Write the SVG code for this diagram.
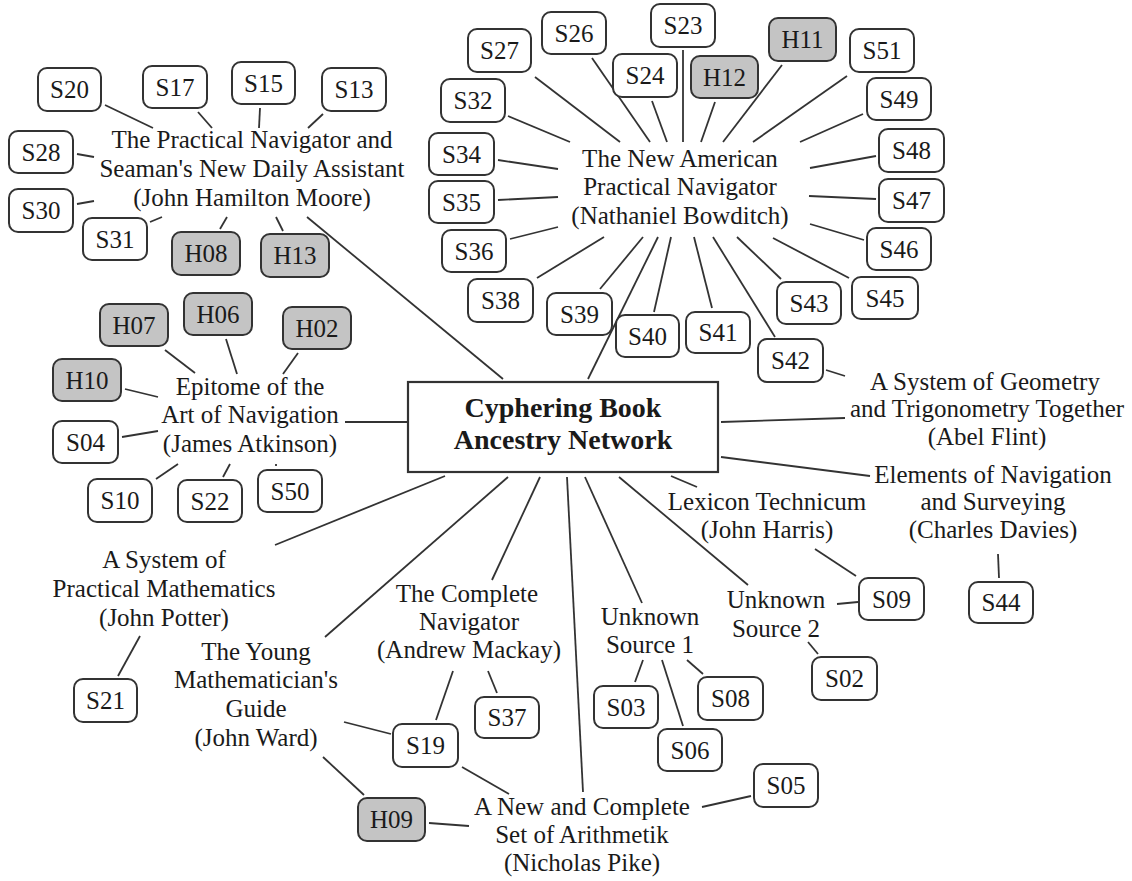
<svg xmlns="http://www.w3.org/2000/svg" width="1132" height="881" viewBox="0 0 1132 881">
<style>
text{font-family:"Liberation Serif","Times New Roman",serif;fill:#1a1a1a;text-anchor:middle}
.t{font-size:25px}
.b{font-size:25px}
.c{font-size:28px;font-weight:bold}
.s rect{fill:#fff;stroke:#333;stroke-width:2}
.h rect{fill:#c4c4c4;stroke:#333;stroke-width:2}
#connectors line{stroke:#333;stroke-width:1.8;fill:none}
</style>
<rect width="1132" height="881" fill="#fff"/>
<g id="connectors">
<line x1="105" y1="105" x2="153" y2="128"/>
<line x1="198" y1="112" x2="212" y2="128"/>
<line x1="260" y1="108" x2="259" y2="128"/>
<line x1="323" y1="114" x2="308" y2="128"/>
<line x1="77" y1="154" x2="94" y2="157"/>
<line x1="77" y1="204" x2="94" y2="201"/>
<line x1="150" y1="222" x2="162" y2="217"/>
<line x1="220" y1="229" x2="227" y2="217"/>
<line x1="276" y1="217" x2="283" y2="231"/>
<line x1="307" y1="217" x2="503" y2="379"/>
<line x1="535" y1="77" x2="620" y2="142"/>
<line x1="592" y1="58" x2="650" y2="142"/>
<line x1="652" y1="101" x2="667" y2="142"/>
<line x1="683" y1="50" x2="683" y2="142"/>
<line x1="715" y1="102" x2="701" y2="142"/>
<line x1="782" y1="65" x2="723" y2="142"/>
<line x1="847" y1="76" x2="753" y2="142"/>
<line x1="863" y1="114" x2="800" y2="142"/>
<line x1="876" y1="156" x2="810" y2="168"/>
<line x1="876" y1="199" x2="809" y2="196"/>
<line x1="864" y1="240" x2="810" y2="224"/>
<line x1="849" y1="278" x2="773" y2="238"/>
<line x1="781" y1="279" x2="737" y2="237"/>
<line x1="775" y1="337" x2="713" y2="237"/>
<line x1="712" y1="308" x2="694" y2="237"/>
<line x1="654" y1="312" x2="671" y2="237"/>
<line x1="600" y1="289" x2="643" y2="237"/>
<line x1="537" y1="278" x2="604" y2="237"/>
<line x1="510" y1="239" x2="558" y2="227"/>
<line x1="498" y1="200" x2="558" y2="197"/>
<line x1="498" y1="160" x2="558" y2="169"/>
<line x1="508" y1="116" x2="570" y2="142"/>
<line x1="658" y1="237" x2="588" y2="379"/>
<line x1="165" y1="350" x2="195" y2="373"/>
<line x1="226" y1="339" x2="237" y2="374"/>
<line x1="298" y1="353" x2="283" y2="374"/>
<line x1="125" y1="389" x2="158" y2="397"/>
<line x1="122" y1="437" x2="158" y2="431"/>
<line x1="156" y1="479" x2="178" y2="464"/>
<line x1="223" y1="477" x2="230" y2="464"/>
<line x1="276" y1="464" x2="276" y2="466"/>
<line x1="345" y1="422" x2="408" y2="422"/>
<line x1="445" y1="476" x2="275" y2="545"/>
<line x1="508" y1="477" x2="325" y2="637"/>
<line x1="540" y1="477" x2="492" y2="580"/>
<line x1="567" y1="477" x2="583" y2="792"/>
<line x1="585" y1="477" x2="642" y2="603"/>
<line x1="619" y1="477" x2="748" y2="585"/>
<line x1="671" y1="476" x2="697" y2="487"/>
<line x1="721" y1="422" x2="845" y2="418"/>
<line x1="721" y1="457" x2="870" y2="476"/>
<line x1="826" y1="370" x2="845" y2="376"/>
<line x1="815" y1="549" x2="856" y2="576"/>
<line x1="837" y1="604" x2="858" y2="602"/>
<line x1="998" y1="554" x2="999" y2="578"/>
<line x1="808" y1="642" x2="818" y2="654"/>
<line x1="643" y1="660" x2="635" y2="682"/>
<line x1="662" y1="660" x2="683" y2="726"/>
<line x1="687" y1="660" x2="703" y2="674"/>
<line x1="702" y1="807" x2="751" y2="796"/>
<line x1="429" y1="823" x2="469" y2="826"/>
<line x1="462" y1="767" x2="509" y2="794"/>
<line x1="344" y1="722" x2="391" y2="734"/>
<line x1="323" y1="757" x2="364" y2="795"/>
<line x1="453" y1="671" x2="436" y2="720"/>
<line x1="488" y1="671" x2="497" y2="693"/>
<line x1="140" y1="636" x2="118" y2="676"/>
</g>
<g id="center"><rect x="408" y="382" width="310" height="90" fill="#fff" stroke="#333" stroke-width="2.2"/><text class="c" x="563" y="417">Cyphering Book</text><text class="c" x="563" y="449">Ancestry Network</text></g>
<g id="moore"><text class="t" x="252" y="148">The Practical Navigator and</text><text class="t" x="252" y="177">Seaman's New Daily Assistant</text><text class="t" x="252" y="206">(John Hamilton Moore)</text></g>
<g id="bowditch"><text class="t" x="680" y="167">The New American</text><text class="t" x="680" y="195">Practical Navigator</text><text class="t" x="680" y="224">(Nathaniel Bowditch)</text></g>
<g id="atkinson"><text class="t" x="250" y="395">Epitome of the</text><text class="t" x="250" y="423">Art of Navigation</text><text class="t" x="250" y="452">(James Atkinson)</text></g>
<g id="flint"><text class="t" x="985" y="390">A System of Geometry</text><text class="t" x="987" y="417">and Trigonometry Together</text><text class="t" x="987" y="445">(Abel Flint)</text></g>
<g id="davies"><text class="t" x="993" y="483">Elements of Navigation</text><text class="t" x="993" y="510">and Surveying</text><text class="t" x="993" y="538">(Charles Davies)</text></g>
<g id="harris"><text class="t" x="767" y="510">Lexicon Technicum</text><text class="t" x="767" y="538">(John Harris)</text></g>
<g id="unknown2"><text class="t" x="776" y="608">Unknown</text><text class="t" x="776" y="637">Source 2</text></g>
<g id="unknown1"><text class="t" x="650" y="625">Unknown</text><text class="t" x="650" y="653">Source 1</text></g>
<g id="mackay"><text class="t" x="467" y="602">The Complete</text><text class="t" x="469" y="630">Navigator</text><text class="t" x="469" y="658">(Andrew Mackay)</text></g>
<g id="potter"><text class="t" x="164" y="568">A System of</text><text class="t" x="164" y="597">Practical Mathematics</text><text class="t" x="164" y="626">(John Potter)</text></g>
<g id="ward"><text class="t" x="256" y="660">The Young</text><text class="t" x="256" y="688">Mathematician's</text><text class="t" x="256" y="717">Guide</text><text class="t" x="256" y="746">(John Ward)</text></g>
<g id="pike"><text class="t" x="582" y="815">A New and Complete</text><text class="t" x="582" y="843">Set of Arithmetik</text><text class="t" x="582" y="871">(Nicholas Pike)</text></g>
<g id="S20" class="s"><rect x="38" y="68" width="63" height="43" rx="9"/><text class="b" x="69.5" y="98">S20</text></g>
<g id="S17" class="s"><rect x="143" y="66" width="64" height="42" rx="9"/><text class="b" x="175" y="95.5">S17</text></g>
<g id="S15" class="s"><rect x="232" y="62" width="63" height="42" rx="9"/><text class="b" x="263.5" y="91.5">S15</text></g>
<g id="S13" class="s"><rect x="322" y="68" width="64" height="43" rx="9"/><text class="b" x="354" y="98">S13</text></g>
<g id="S28" class="s"><rect x="9" y="131" width="64" height="42" rx="9"/><text class="b" x="41" y="160.5">S28</text></g>
<g id="S30" class="s"><rect x="9" y="189" width="64" height="43" rx="9"/><text class="b" x="41" y="219">S30</text></g>
<g id="S31" class="s"><rect x="83" y="218" width="64" height="42" rx="9"/><text class="b" x="115" y="247.5">S31</text></g>
<g id="H08" class="h"><rect x="172" y="232" width="68" height="43" rx="9"/><text class="b" x="206" y="262">H08</text></g>
<g id="H13" class="h"><rect x="261" y="234" width="68" height="43" rx="9"/><text class="b" x="295" y="264">H13</text></g>
<g id="S27" class="s"><rect x="468" y="29" width="63" height="43" rx="9"/><text class="b" x="499.5" y="59">S27</text></g>
<g id="S26" class="s"><rect x="542" y="12" width="64" height="42" rx="9"/><text class="b" x="574" y="41.5">S26</text></g>
<g id="S23" class="s"><rect x="651" y="4" width="64" height="43" rx="9"/><text class="b" x="683" y="34">S23</text></g>
<g id="S24" class="s"><rect x="613" y="54" width="64" height="43" rx="9"/><text class="b" x="645" y="84">S24</text></g>
<g id="H12" class="h"><rect x="691" y="56" width="67" height="42" rx="9"/><text class="b" x="724.5" y="85.5">H12</text></g>
<g id="H11" class="h"><rect x="769" y="18" width="67" height="43" rx="9"/><text class="b" x="802.5" y="48">H11</text></g>
<g id="S51" class="s"><rect x="850" y="29" width="64" height="43" rx="9"/><text class="b" x="882" y="59">S51</text></g>
<g id="S49" class="s"><rect x="867" y="78" width="64" height="42" rx="9"/><text class="b" x="899" y="107.5">S49</text></g>
<g id="S48" class="s"><rect x="879" y="129" width="65" height="43" rx="9"/><text class="b" x="911.5" y="159">S48</text></g>
<g id="S47" class="s"><rect x="879" y="179" width="65" height="43" rx="9"/><text class="b" x="911.5" y="209">S47</text></g>
<g id="S46" class="s"><rect x="867" y="228" width="64" height="42" rx="9"/><text class="b" x="899" y="257.5">S46</text></g>
<g id="S45" class="s"><rect x="852" y="277" width="66" height="42" rx="9"/><text class="b" x="885" y="306.5">S45</text></g>
<g id="S43" class="s"><rect x="777" y="282" width="64" height="42" rx="9"/><text class="b" x="809" y="311.5">S43</text></g>
<g id="S42" class="s"><rect x="758" y="339" width="65" height="43" rx="9"/><text class="b" x="790.5" y="369">S42</text></g>
<g id="S41" class="s"><rect x="686" y="312" width="64" height="41" rx="9"/><text class="b" x="718" y="341">S41</text></g>
<g id="S40" class="s"><rect x="616" y="315" width="63" height="42" rx="9"/><text class="b" x="647.5" y="344.5">S40</text></g>
<g id="S39" class="s"><rect x="547" y="293" width="65" height="42" rx="9"/><text class="b" x="579.5" y="322.5">S39</text></g>
<g id="S38" class="s"><rect x="468" y="279" width="65" height="43" rx="9"/><text class="b" x="500.5" y="309">S38</text></g>
<g id="S36" class="s"><rect x="442" y="230" width="64" height="42" rx="9"/><text class="b" x="474" y="259.5">S36</text></g>
<g id="S35" class="s"><rect x="429" y="181" width="65" height="42" rx="9"/><text class="b" x="461.5" y="210.5">S35</text></g>
<g id="S34" class="s"><rect x="429" y="133" width="65" height="42" rx="9"/><text class="b" x="461.5" y="162.5">S34</text></g>
<g id="S32" class="s"><rect x="441" y="79" width="64" height="43" rx="9"/><text class="b" x="473" y="109">S32</text></g>
<g id="H07" class="h"><rect x="100" y="304" width="68" height="42" rx="9"/><text class="b" x="134" y="333.5">H07</text></g>
<g id="H06" class="h"><rect x="184" y="293" width="68" height="42" rx="9"/><text class="b" x="218" y="322.5">H06</text></g>
<g id="H02" class="h"><rect x="283" y="307" width="68" height="42" rx="9"/><text class="b" x="317" y="336.5">H02</text></g>
<g id="H10" class="h"><rect x="53" y="359" width="68" height="42" rx="9"/><text class="b" x="87" y="388.5">H10</text></g>
<g id="S04" class="s"><rect x="53" y="421" width="65" height="42" rx="9"/><text class="b" x="85.5" y="450.5">S04</text></g>
<g id="S10" class="s"><rect x="88" y="479" width="64" height="43" rx="9"/><text class="b" x="120" y="509">S10</text></g>
<g id="S22" class="s"><rect x="178" y="480" width="64" height="42" rx="9"/><text class="b" x="210" y="509.5">S22</text></g>
<g id="S50" class="s"><rect x="258" y="470" width="64" height="42" rx="9"/><text class="b" x="290" y="499.5">S50</text></g>
<g id="S09" class="s"><rect x="859" y="578" width="65" height="42" rx="9"/><text class="b" x="891.5" y="607.5">S09</text></g>
<g id="S44" class="s"><rect x="969" y="582" width="64" height="41" rx="9"/><text class="b" x="1001" y="611">S44</text></g>
<g id="S02" class="s"><rect x="812" y="657" width="65" height="43" rx="9"/><text class="b" x="844.5" y="687">S02</text></g>
<g id="S03" class="s"><rect x="594" y="686" width="64" height="42" rx="9"/><text class="b" x="626" y="715.5">S03</text></g>
<g id="S08" class="s"><rect x="698" y="677" width="65" height="43" rx="9"/><text class="b" x="730.5" y="707">S08</text></g>
<g id="S06" class="s"><rect x="658" y="729" width="64" height="42" rx="9"/><text class="b" x="690" y="758.5">S06</text></g>
<g id="S05" class="s"><rect x="754" y="764" width="64" height="43" rx="9"/><text class="b" x="786" y="794">S05</text></g>
<g id="S37" class="s"><rect x="475" y="697" width="64" height="41" rx="9"/><text class="b" x="507" y="726">S37</text></g>
<g id="S19" class="s"><rect x="393" y="724" width="65" height="43" rx="9"/><text class="b" x="425.5" y="754">S19</text></g>
<g id="H09" class="h"><rect x="358" y="798" width="67" height="43" rx="9"/><text class="b" x="391.5" y="828">H09</text></g>
<g id="S21" class="s"><rect x="74" y="679" width="63" height="43" rx="9"/><text class="b" x="105.5" y="709">S21</text></g>
</svg>
